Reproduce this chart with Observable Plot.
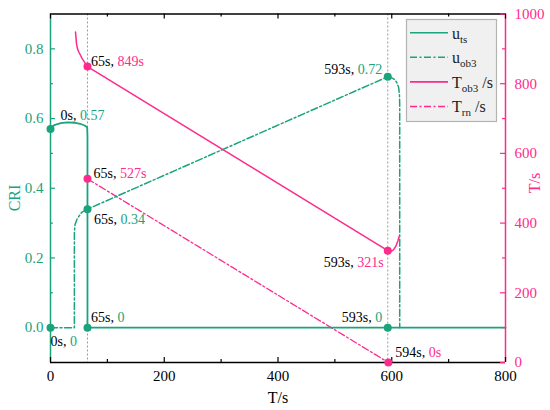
<!DOCTYPE html>
<html><head><meta charset="utf-8">
<script src="https://cdn.jsdelivr.net/npm/d3@7"></script>
<script src="https://cdn.jsdelivr.net/npm/@observablehq/plot@0.6"></script>
<style>
body{margin:0;background:#fff;}
svg{display:block;}
svg text{font-family:"Liberation Serif",serif !important;}
</style></head><body><div id="chart"></div>
<script>
// ---------- data ----------
// u_ts (CRI) : [time s, CRI]
const uTs = [[0,0.574],[8,0.582],[18,0.587],[30,0.589],[42,0.588],[52,0.585],[60,0.580],[64.5,0.575],[65,0.55],[65,0],[800,0]];
// u_ob3 (CRI)
const uOb3 = [[0,0],[42,0],[42,0.27],[43,0.295],[47,0.313],[55,0.331],[65,0.34],[593,0.72],[600,0.717],[605,0.712],[609,0.703],[612,0.69],[613.5,0.67],[614,0.64],[614,0]];
// T_ob3 (s) : [time s, T s]
const tOb3 = [[44,948],[45.7,915],[47.5,900],[49.8,891],[55.7,872],[65,849],[593,321],[598,318],[603,323],[607,333],[611,350],[613,362]];
// T_rn (s)
const tRn = [[65,527],[594,0]];
// marked points
const greenDots = [[0,0.57],[0,0],[65,0.34],[65,0],[593,0.72],[593,0]];
const pinkDots = [[65,849],[65,527],[593,321],[594,0]];
const eventTimes = [65,593];
// annotations
const labelT = [0,0,65,65,65,65,593,593,593,594];
const labelV = [0.57,0,849,527,0.34,0,0.72,321,0,0];
const labelAxis = ["L","L","R","R","L","L","L","R","L","R"];
const labelVal = ["0.57","0","849s","527s","0.34","0","0.72","321s","0","0s"];
// ticks
const xMajor = [0,200,400,600,800], xMinor = [100,300,500,700];
const yMajor = [0,0.2,0.4,0.6,0.8], yMinor = [0.1,0.3,0.5,0.7];
const tMajor = [0,200,400,600,800,1000], tMinor = [100,300,500,700,900];
const legendNames = [["u","ts",""],["u","ob3",""],["T","ob3"," /s"],["T","rn"," /s"]];
const axisTitles = ["CRI","T/s","T/s"];

// ---------- style / layout ----------
const GREEN = "#1aa37d", PINK = "#ff2a8c", FONT = "Liberation Serif";
const W = 550, H = 410, mL = 50, mR = 45, mT = 13.5, mB = 48;
const pw = W - mL - mR, ph = H - mT - mB;
const labelLayout = [[10,-9,"start"],[0,18,"start"],[3.5,-1,"start"],[6,-1,"start"],[6.5,15,"start"],[3.5,-5.5,"start"],[-5.5,-3,"end"],[-4,16,"end"],[-5.5,-5.5,"end"],[7,-6,"start"]];
const DASHDOT = "7,2.5,2,2.5";
const legendStyles = [[GREEN,null],[GREEN,DASHDOT],[PINK,null],[PINK,DASHDOT]];

// secondary axis: T (0..1000) mapped onto CRI (-0.1..0.9)
const toCRI = T => T/1000 - 0.1;

const labelMarks = labelT.map((t,i) => {
  const [dx,dy,anchor] = labelLayout[i];
  const v = labelAxis[i] === "L" ? labelV[i] : toCRI(labelV[i]);
  return Plot.text([{t, v, s: `${t}s, ${labelVal[i]}`}], {
    x: "t", y: "v", text: "s", dx, dy, textAnchor: anchor, lineAnchor: "bottom",
    fill: labelAxis[i] === "L" ? GREEN : PINK, fontSize: 14, fontFamily: FONT
  });
});

const plot = Plot.plot({
  width: W, height: H,
  marginLeft: mL, marginRight: mR, marginTop: mT, marginBottom: mB,
  style: {fontFamily: FONT, fontSize: "15px", background: "#fff"},
  x: {domain: [0,800]},
  y: {domain: [-0.1,0.9]},
  marks: [
    Plot.ruleX(eventTimes, {stroke: "#9a9a9a", strokeDasharray: "2,2", strokeWidth: 1}),
    Plot.line(tRn, {x: d=>d[0], y: d=>toCRI(d[1]), stroke: PINK, strokeWidth: 1.3, strokeDasharray: DASHDOT}),
    Plot.line(tOb3, {x: d=>d[0], y: d=>toCRI(d[1]), stroke: PINK, strokeWidth: 1.5}),
    Plot.line(uOb3, {x: d=>d[0], y: d=>d[1], stroke: GREEN, strokeWidth: 1.5, strokeDasharray: DASHDOT}),
    Plot.line(uTs, {x: d=>d[0], y: d=>d[1], stroke: GREEN, strokeWidth: 1.8}),
    // frame
    Plot.ruleY([-0.1], {stroke: "#000", strokeWidth: 1.5}),
    Plot.ruleY([0.9], {stroke: "#000", strokeWidth: 1.5}),
    Plot.ruleX([0], {stroke: GREEN, strokeWidth: 1.5}),
    Plot.ruleX([800], {stroke: PINK, strokeWidth: 1.5}),
    // inward ticks
    Plot.tickY(yMajor, {y: d=>d, stroke: GREEN, strokeWidth: 1.2, insetRight: pw-5}),
    Plot.tickY(yMinor, {y: d=>d, stroke: GREEN, strokeWidth: 1.2, insetRight: pw-3}),
    Plot.tickY(tMajor, {y: d=>toCRI(d), stroke: PINK, strokeWidth: 1.2, insetLeft: pw-5}),
    Plot.tickY(tMinor, {y: d=>toCRI(d), stroke: PINK, strokeWidth: 1.2, insetLeft: pw-3}),
    Plot.tickX(xMajor, {x: d=>d, stroke: "#000", strokeWidth: 1.2, insetTop: ph-5}),
    Plot.tickX(xMinor, {x: d=>d, stroke: "#000", strokeWidth: 1.2, insetTop: ph-3}),
    Plot.tickX(xMajor, {x: d=>d, stroke: "#000", strokeWidth: 1.2, insetBottom: ph-5}),
    Plot.tickX(xMinor, {x: d=>d, stroke: "#000", strokeWidth: 1.2, insetBottom: ph-3}),
    // tick labels
    Plot.axisY({ticks: yMajor, tickFormat: d3.format(".1f"), tickSize: 0, tickPadding: 7, label: null, color: GREEN, fontSize: 15, fontFamily: FONT}),
    Plot.axisY({ticks: tMajor.map(toCRI), anchor: "right", tickFormat: v => String(Math.round((v+0.1)*1000)), tickSize: 0, tickPadding: 9, label: null, color: PINK, fontSize: 15, fontFamily: FONT}),
    Plot.axisX({ticks: xMajor, tickSize: 0, tickPadding: 8, label: null, color: "#000", fontSize: 15, fontFamily: FONT}),
    // points
    Plot.dot(greenDots, {x: d=>d[0], y: d=>d[1], r: 4, fill: GREEN}),
    Plot.dot(pinkDots, {x: d=>d[0], y: d=>toCRI(d[1]), r: 4, fill: PINK}),
    ...labelMarks
  ]
});
plot.setAttribute("font-family", FONT);

// two-colour annotations: time part in black
plot.querySelectorAll("text").forEach(el => {
  const m = /^(\d+s, )(.+)$/.exec(el.textContent);
  if (!m) return;
  el.textContent = "";
  const a = document.createElementNS("http://www.w3.org/2000/svg","tspan");
  a.setAttribute("fill","#000"); a.textContent = m[1];
  const b = document.createElementNS("http://www.w3.org/2000/svg","tspan");
  b.textContent = m[2];
  el.appendChild(a); el.appendChild(b);
});

const svg = d3.select(plot);
// axis titles
const tg = svg.append("g").attr("font-family", FONT).attr("font-size", 16).attr("text-anchor", "middle");
tg.append("text").attr("transform", `translate(20,198) rotate(-90)`).attr("fill", GREEN).text(axisTitles[0]);
tg.append("text").attr("transform", `translate(540,183) rotate(-90)`).attr("fill", PINK).text(axisTitles[1]);
tg.append("text").attr("x", 278).attr("y", 403).attr("fill", "#000").text(axisTitles[2]);

// legend
const lg = svg.append("g").attr("font-family", FONT).attr("font-size", 16).attr("text-anchor", "start");
const lx = 406.5, ly = 19.5, lw = 90, lh = 102;
lg.append("rect").attr("x", lx).attr("y", ly).attr("width", lw).attr("height", lh)
  .attr("fill", "#f0f0f0").attr("stroke", "#b4b4b4").attr("stroke-width", 1.2);
legendNames.forEach((n, i) => {
  const yy = 32.7 + i*24.6;
  const [col, dash] = legendStyles[i];
  lg.append("line").attr("x1", 410).attr("x2", 448).attr("y1", yy).attr("y2", yy)
    .attr("stroke", col).attr("stroke-width", 1.6).attr("stroke-dasharray", dash);
  const t = lg.append("text").attr("x", 452).attr("y", yy + 5.8).attr("fill", "#222");
  t.append("tspan").text(n[0]);
  t.append("tspan").attr("font-size", 11).attr("dy", 4).text(n[1]);
  if (n[2]) t.append("tspan").attr("dy", -4).text(n[2]);
});

document.getElementById("chart").appendChild(plot);
</script>
</body></html>
